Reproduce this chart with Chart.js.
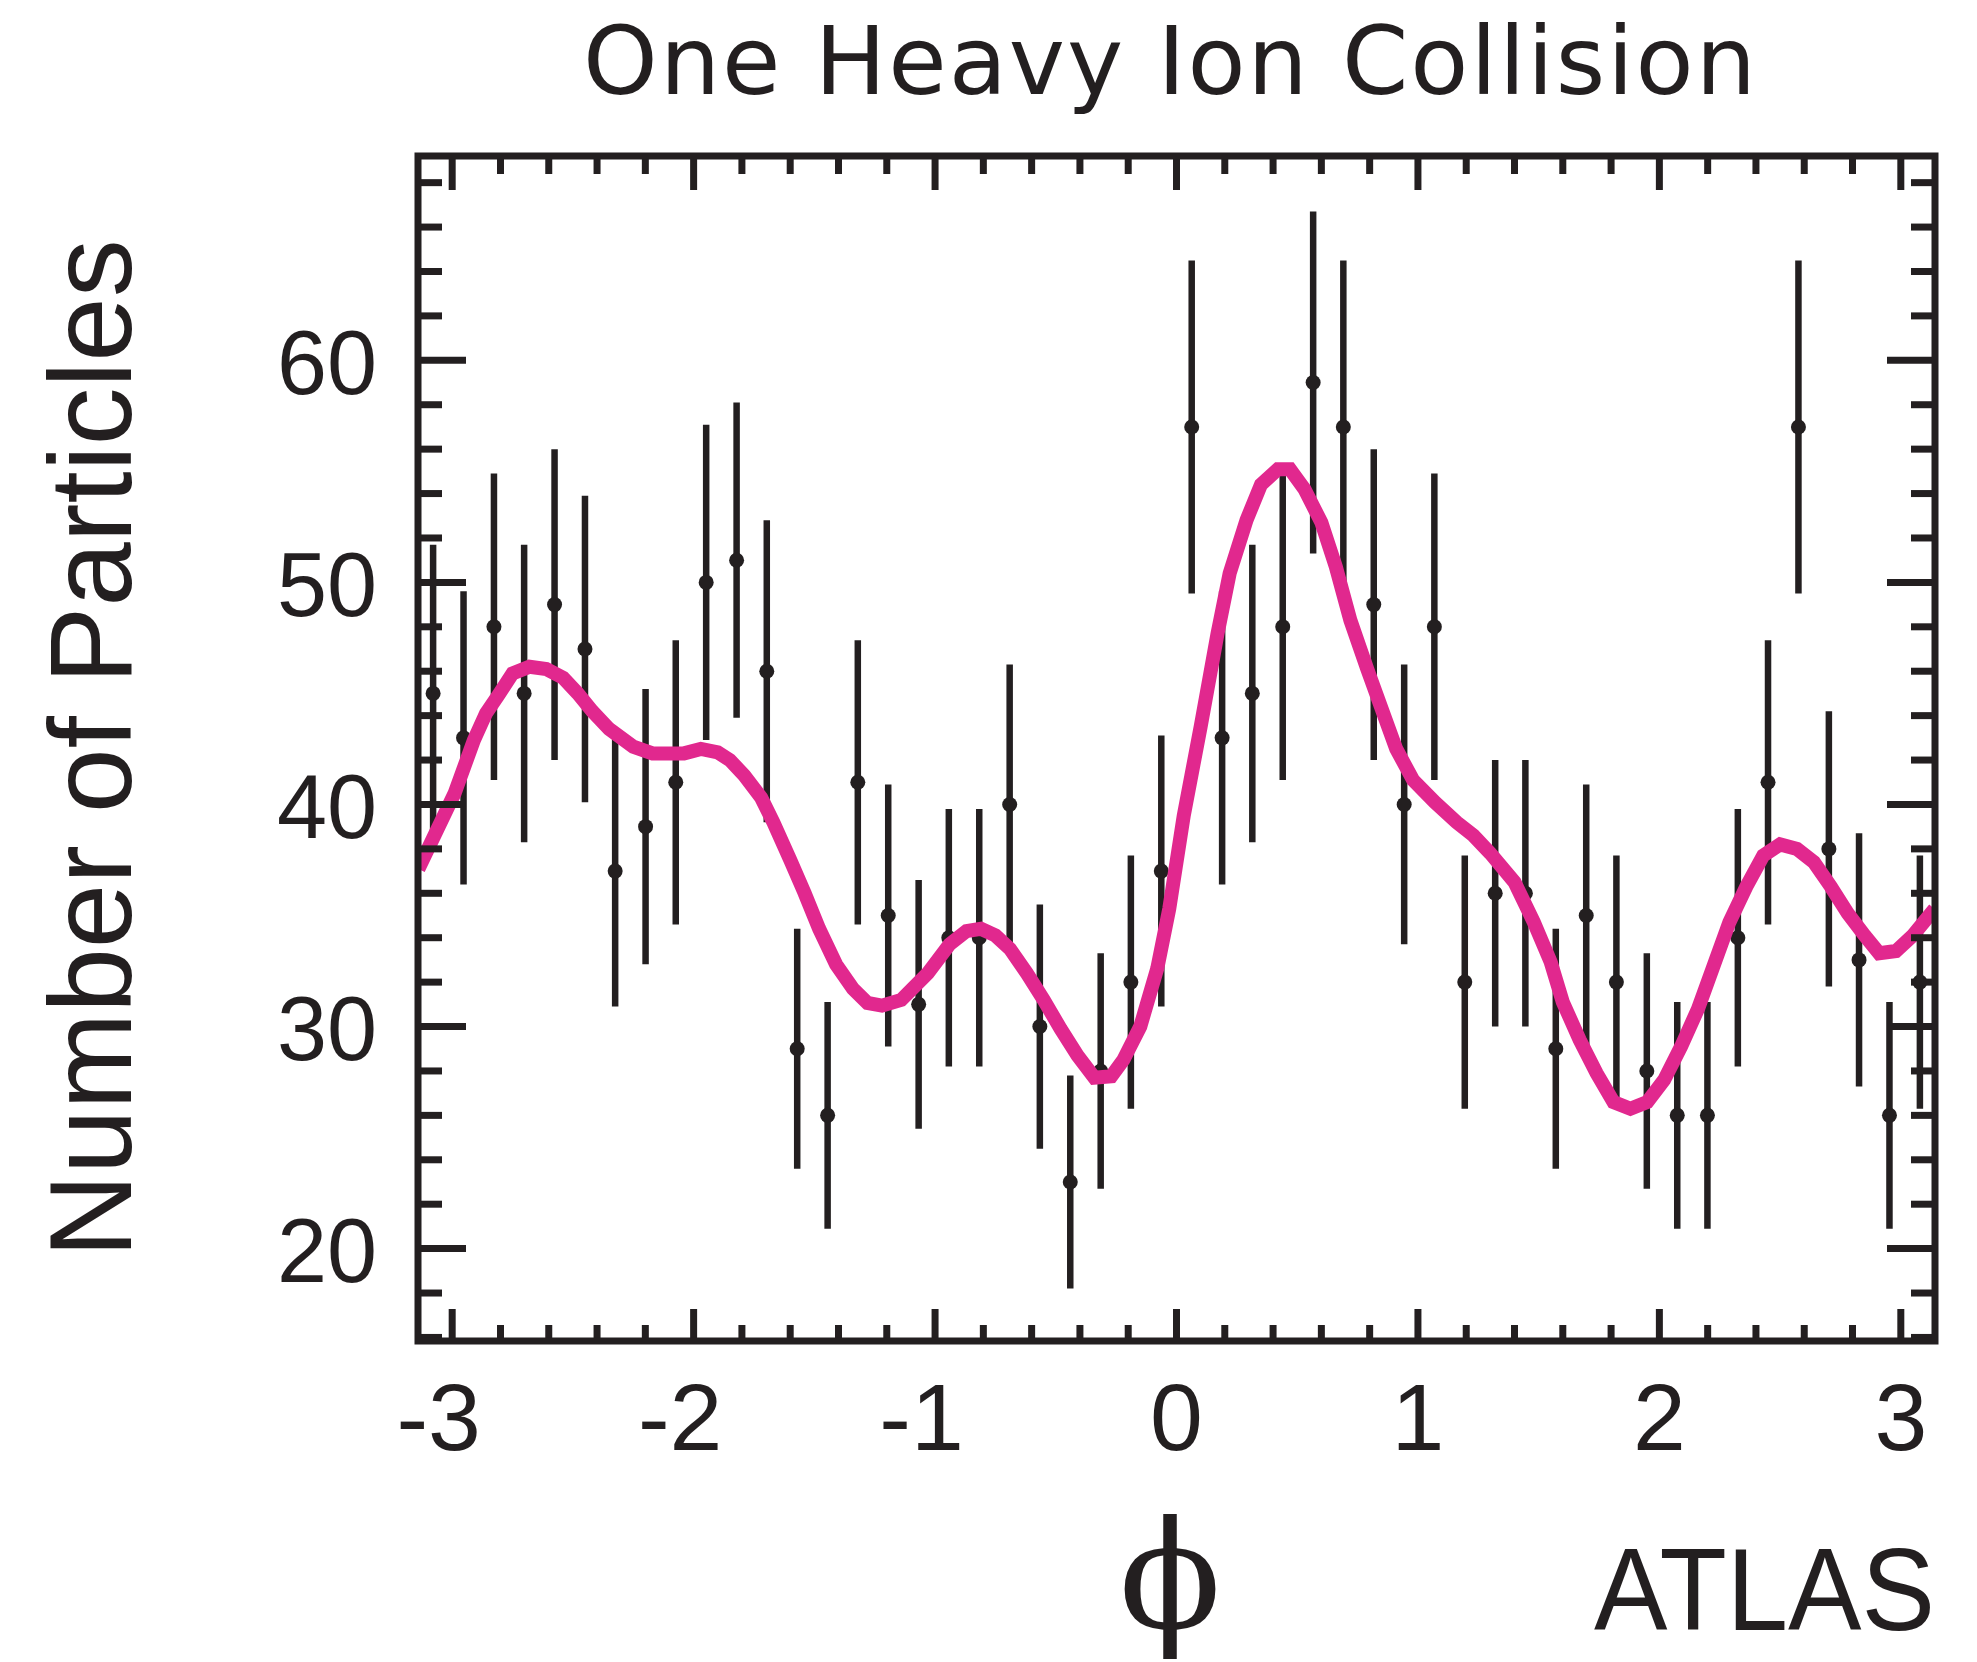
<!DOCTYPE html>
<html>
<head>
<meta charset="utf-8">
<script src="https://cdn.jsdelivr.net/npm/chart.js@4.4.1/dist/chart.umd.min.js"></script>
<style>
  html, body { margin: 0; padding: 0; background: #ffffff; }
  canvas { display: block; }
</style>
</head>
<body>
<canvas id="c" width="1977" height="1662"></canvas>
<script>
// ---- data ----
const binPhi = [-3.079, -2.953, -2.827, -2.702, -2.576, -2.450, -2.325, -2.199, -2.074, -1.948,
                -1.822, -1.697, -1.571, -1.445, -1.320, -1.194, -1.068, -0.943, -0.817, -0.691,
                -0.566, -0.440, -0.314, -0.189, -0.063, 0.063, 0.189, 0.314, 0.440, 0.566,
                0.691, 0.817, 0.943, 1.068, 1.194, 1.320, 1.445, 1.571, 1.697, 1.822,
                1.948, 2.074, 2.199, 2.325, 2.450, 2.576, 2.702, 2.827, 2.953, 3.079];
const counts = [45, 43, 48, 45, 49, 47, 37, 39, 41, 50,
                51, 46, 29, 26, 41, 35, 31, 34, 34, 40,
                30, 23, 28, 32, 37, 57, 43, 45, 48, 59,
                57, 49, 40, 48, 32, 36, 36, 29, 35, 32,
                28, 26, 26, 34, 41, 57, 38, 33, 26, 32];
const countErr = [6.7, 6.6, 6.9, 6.7, 7.0, 6.9, 6.1, 6.2, 6.4, 7.1,
                  7.1, 6.8, 5.4, 5.1, 6.4, 5.9, 5.6, 5.8, 5.8, 6.3,
                  5.5, 4.8, 5.3, 5.7, 6.1, 7.5, 6.6, 6.7, 6.9, 7.7,
                  7.5, 7.0, 6.3, 6.9, 5.7, 6.0, 6.0, 5.4, 5.9, 5.7,
                  5.3, 5.1, 5.1, 5.8, 6.4, 7.5, 6.2, 5.7, 5.1, 5.7];
const fitPhi = [-3.14, -2.99, -2.91, -2.86, -2.81, -2.75, -2.68, -2.61, -2.54, -2.48,
                -2.42, -2.35, -2.25, -2.17, -2.04, -1.97, -1.90, -1.85, -1.79, -1.72,
                -1.67, -1.60, -1.54, -1.48, -1.41, -1.34, -1.28, -1.22, -1.14, -1.03,
                -0.94, -0.87, -0.81, -0.75, -0.69, -0.62, -0.55, -0.48, -0.41, -0.34,
                -0.27, -0.22, -0.15, -0.08, -0.03, 0.03, 0.10, 0.17, 0.22, 0.29,
                0.35, 0.42, 0.47, 0.53, 0.60, 0.66, 0.72, 0.79, 0.86, 0.91,
                0.98, 1.07, 1.16, 1.23, 1.30, 1.40, 1.48, 1.55, 1.60, 1.67,
                1.74, 1.81, 1.88, 1.95, 2.02, 2.09, 2.16, 2.22, 2.29, 2.36,
                2.43, 2.50, 2.57, 2.64, 2.71, 2.78, 2.85, 2.91, 2.98, 3.05, 3.14];
const fitVal = [37.1, 40.5, 42.9, 44.1, 44.9, 45.9, 46.2, 46.1, 45.7, 45.0,
                44.2, 43.4, 42.6, 42.3, 42.3, 42.5, 42.35, 42.0, 41.3, 40.3,
                39.2, 37.5, 36.0, 34.4, 32.8, 31.7, 31.06, 30.94, 31.2, 32.4,
                33.7, 34.3, 34.4, 34.1, 33.5, 32.4, 31.2, 29.9, 28.7, 27.7,
                27.76, 28.5, 30.0, 32.6, 35.3, 39.5, 43.5, 47.7, 50.4, 52.8,
                54.4, 55.1, 55.1, 54.2, 52.7, 50.7, 48.3, 46.1, 44.0, 42.5,
                41.1, 40.1, 39.2, 38.6, 37.8, 36.5, 34.7, 32.9, 31.1, 29.4,
                27.9, 26.6, 26.3, 26.6, 27.6, 29.1, 30.8, 32.6, 34.7, 36.3,
                37.7, 38.2, 38.0, 37.4, 36.3, 35.1, 34.1, 33.3, 33.4, 34.1, 35.3];
const xTickLabels = [-3, -2, -1, 0, 1, 2, 3];
const yTickLabels = [20, 30, 40, 50, 60];
const titleText = 'One Heavy Ion Collision';
const yTitleText = 'Number of Particles';
const xTitleText = '\u03D5';
const tagText = 'ATLAS';

// ---- styles ----
const INK = '#231F20';
const PINK = '#E1288E';

const decorPlugin = {
  id: 'decor',
  beforeDatasetsDraw(chart) {
    const { ctx, scales: { x, y } } = chart;
    ctx.save();
    ctx.strokeStyle = INK;
    ctx.lineWidth = 6.5;
    ctx.lineCap = 'butt';
    binPhi.forEach((p, i) => {
      const px = x.getPixelForValue(p);
      ctx.beginPath();
      ctx.moveTo(px, y.getPixelForValue(counts[i] - countErr[i]));
      ctx.lineTo(px, y.getPixelForValue(counts[i] + countErr[i]));
      ctx.stroke();
    });
    ctx.restore();
  },
  afterDatasetsDraw(chart) {
    const { ctx, chartArea: a, scales: { x, y } } = chart;
    ctx.save();
    ctx.strokeStyle = INK;
    ctx.lineCap = 'butt';
    ctx.lineWidth = 7;
    const seg = (x1, y1, x2, y2) => { ctx.beginPath(); ctx.moveTo(x1, y1); ctx.lineTo(x2, y2); ctx.stroke(); };
    for (let v = 16; v <= 68; v += 2) {
      const py = y.getPixelForValue(v);
      if (py < a.top || py > a.bottom) continue;
      const len = (v % 10 === 0) ? 48 : 24;
      seg(a.left, py, a.left + len, py);
      seg(a.right, py, a.right - len, py);
    }
    for (let k = -15; k <= 15; k++) {
      const px = x.getPixelForValue(k / 5);
      const major = (k % 5 === 0);
      seg(px, a.top, px, a.top + (major ? 34 : 18));
      seg(px, a.bottom, px, a.bottom - (major ? 32 : 16));
    }
    ctx.strokeRect(a.left, a.top, a.right - a.left, a.bottom - a.top);
    ctx.restore();
  },
  afterDraw(chart) {
    const { ctx, chartArea: a } = chart;
    const cx = (a.left + a.right) / 2;
    ctx.save();
    ctx.fillStyle = INK;
    ctx.font = '95px "DejaVu Sans"';
    ctx.textAlign = 'center';
    ctx.textBaseline = 'alphabetic';
    try { ctx.letterSpacing = '2px'; } catch (e) {}
    ctx.fillText(titleText, cx - 6, 94);
    try { ctx.letterSpacing = '0px'; } catch (e) {}
    ctx.save();
    ctx.translate(131, (a.top + a.bottom) / 2);
    ctx.rotate(-Math.PI / 2);
    ctx.font = '116px "Liberation Sans"';
    ctx.textAlign = 'center';
    ctx.fillText(yTitleText, 0, 0);
    ctx.restore();
    ctx.font = '150px "DejaVu Serif"';
    ctx.textAlign = 'center';
    ctx.fillText(xTitleText, 1170, 1628);
    ctx.save();
    ctx.translate(a.right, 1630);
    ctx.scale(0.95, 1);
    ctx.font = '116px "Liberation Sans"';
    ctx.textAlign = 'right';
    ctx.fillText(tagText, 0, 0);
    ctx.restore();
    ctx.restore();
  }
};

new Chart(document.getElementById('c'), {
  type: 'scatter',
  data: {
    datasets: [
      {
        label: 'fit',
        data: fitPhi.map((p, i) => ({ x: p, y: fitVal[i] })),
        showLine: true,
        borderColor: PINK,
        borderWidth: 14,
        pointRadius: 0,
        tension: 0,
        fill: false,
        order: 0
      },
      {
        label: 'events',
        data: binPhi.map((p, i) => ({ x: p, y: counts[i] })),
        backgroundColor: INK,
        borderWidth: 0,
        pointRadius: 7.5,
        order: 1
      }
    ]
  },
  options: {
    responsive: false,
    animation: false,
    devicePixelRatio: 1,
    layout: { padding: { left: 0, top: 156, right: 42, bottom: 0 } },
    plugins: { legend: { display: false }, tooltip: { enabled: false }, title: { display: false } },
    scales: {
      x: {
        type: 'linear',
        min: -Math.PI,
        max: Math.PI,
        afterBuildTicks: s => { s.ticks = xTickLabels.map(v => ({ value: v })); },
        afterFit: s => { s.height = 321; },
        grid: { display: false },
        border: { display: false },
        ticks: {
          color: INK,
          font: { family: 'Liberation Sans', size: 95 },
          padding: 18,
          maxRotation: 0,
          autoSkip: false,
          callback: v => (v < 0 ? String(v) + '\u2009\u200A' : String(v))
        }
      },
      y: {
        type: 'linear',
        min: 15.84,
        max: 69.2,
        afterBuildTicks: s => { s.ticks = yTickLabels.map(v => ({ value: v })); },
        afterFit: s => { s.width = 418; },
        grid: { display: false },
        border: { display: false },
        ticks: { color: INK, font: { family: 'Liberation Sans', size: 90 }, padding: 33, labelOffset: 9, autoSkip: false }
      }
    }
  },
  plugins: [decorPlugin]
});
</script>
</body>
</html>
